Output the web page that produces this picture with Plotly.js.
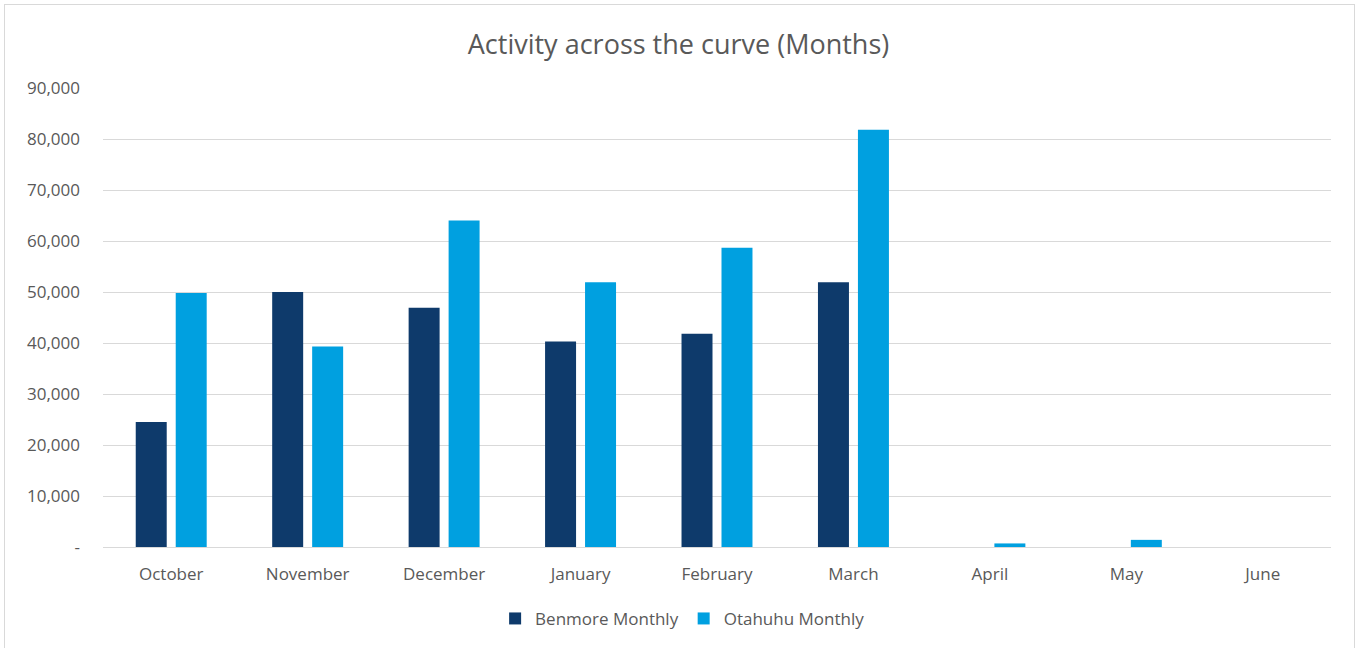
<!DOCTYPE html>
<html>
<head>
<meta charset="utf-8">
<script src="https://cdn.plot.ly/plotly-3.0.1.min.js"></script>
<style>
html,body{margin:0;padding:0;background:#fff;}
#wrap{position:relative;width:1357px;height:648px;overflow:hidden;}
#chart{position:absolute;left:0;top:0;width:1357px;height:648px;}
#frame{position:absolute;left:4px;top:4px;width:1351px;height:660px;border:1px solid #d9d9d9;pointer-events:none;box-sizing:border-box;}
</style>
</head>
<body>
<div id="wrap"><div id="chart"></div><div id="frame"></div></div>
<script>
const months = ["October","November","December","January","February","March","April","May","June"];
const benmore = [24500, 50000, 46900, 40300, 41800, 51900, 0, 0, 0];
const otahuhu = [49800, 39300, 64000, 51900, 58700, 81800, 700, 1400, 0];
const yTickVals = [0,10000,20000,30000,40000,50000,60000,70000,80000,90000];
const yTickText = ["-","10,000","20,000","30,000","40,000","50,000","60,000","70,000","80,000","90,000"];

const font = {family: "Open Sans, sans-serif", color: "#595959", size: 17};

const traces = [
  {type:"bar", name:"Benmore Monthly", x:months, y:benmore, marker:{color:"#0e3a6b"}, hoverinfo:"x+y+name"},
  {type:"bar", name:"Otahuhu Monthly", x:months, y:otahuhu, marker:{color:"#00a0e0"}, hoverinfo:"x+y+name"}
];

const layout = {
  width:1357, height:648,
  margin:{l:103, r:26, t:88, b:100},
  paper_bgcolor:"#ffffff", plot_bgcolor:"#ffffff",
  font: font,
  title:{text:"Activity across the curve (Months)", font:{family:"Open Sans, sans-serif", size:27, color:"#595959"}, x:0.5, xanchor:"center", y:0.932, yanchor:"middle"},
  barmode:"group", bargap:0.414, bargroupgap:0.225,
  xaxis:{type:"category", showgrid:false, showline:false, zeroline:false, ticks:"", tickfont:font, ticklabelstandoff:15},
  yaxis:{range:[0,90000], tickvals:yTickVals, ticktext:yTickText, showgrid:true, gridcolor:"#d9d9d9", gridwidth:1, zeroline:true, zerolinecolor:"#d9d9d9", zerolinewidth:1, showline:false, ticks:"", tickfont:font, ticklabelstandoff:22},
  showlegend:true,
  legend:{orientation:"h", x:0.472, xanchor:"center", y:-0.115, yanchor:"top", font:font, itemwidth:30, traceorder:"normal"}
};

Plotly.newPlot("chart", traces, layout, {displayModeBar:false, staticPlot:true});
</script>
</body>
</html>
